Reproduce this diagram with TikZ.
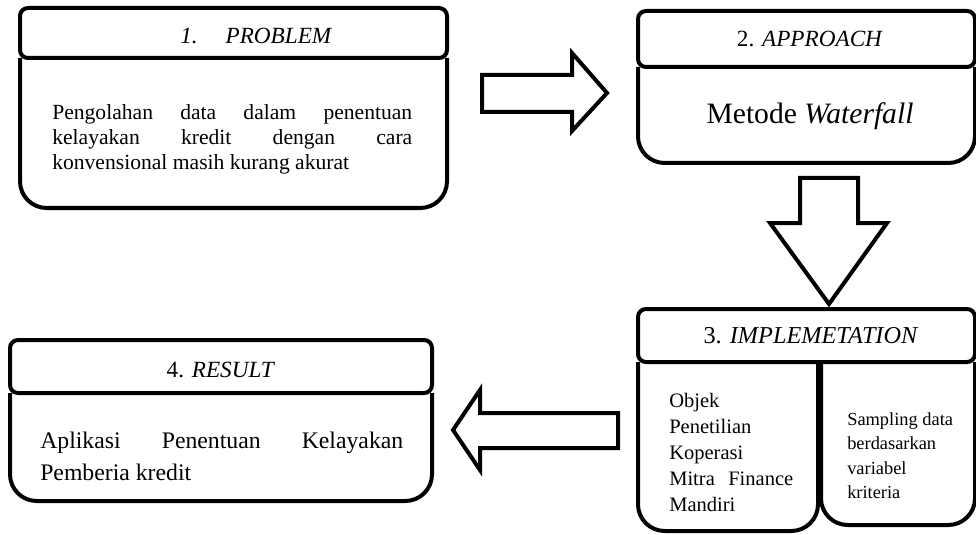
\documentclass[tikz,border=0pt]{standalone}
\usepackage{fontspec}
\setmainfont{Liberation Serif}
\usetikzlibrary{fit}
% one line of a justified paragraph, spread to a given width
\newcommand\spreadto[2]{\makebox[#1][s]{#2}}

\begin{document}
\begin{tikzpicture}[x=0.75pt,y=-0.75pt,
  frame/.style={draw=black, line width=3pt},
  headbox/.style={frame, rectangle, rounded corners=6pt, inner sep=0pt, outer sep=0pt},
  bodyline/.style={frame, rounded corners=20pt},
  blockarrow/.style={frame, line join=miter, fill=white},
  title/.style={inner sep=0pt, anchor=base, font=\fontsize{17.4pt}{20pt}\selectfont},
  bodytext/.style={inner sep=0pt, anchor=base west, align=left}]

\useasboundingbox (0,0) rectangle (976,535);

% ---- 1. Problem
\node[headbox, fit={(20,8) (447,58)}] (h1) {};
\coordinate (b1) at (447,208);
\draw[bodyline] (h1.south west) -- (h1.south west |- b1) -- (b1) -- (h1.south east);
\node[title, anchor=base west] (t1) at (180,44) {\itshape 1.\hspace{21pt}PROBLEM};
\node[bodytext, font=\fontsize{16.2pt}{18.75pt}\selectfont] (x1) at (52,120)
  {\begin{tabular}[t]{@{}l@{}}
   \spreadto{270pt}{Pengolahan data dalam penentuan}\\
   \spreadto{270pt}{kelayakan kredit dengan cara}\\
   konvensional masih kurang akurat
   \end{tabular}};

% ---- 2. Approach
\node[headbox, fit={(638,11) (975,67)}] (h2) {};
\coordinate (b2) at (975,163);
\draw[bodyline] (h2.south west) -- (h2.south west |- b2) -- (b2) -- (h2.south east);
\node[title] (t2) at (810,47) {2. \textit{APPROACH}};
\node[inner sep=0pt, anchor=base, font=\fontsize{22.2pt}{25pt}\selectfont] (x2) at (810,123)
  {Metode \textit{Waterfall}};

% ---- 3. Implementation
\node[headbox, fit={(638,309) (975,362)}] (h3) {};
\coordinate (b3l) at (818,531);
\coordinate (b3r) at (821,525);
\draw[bodyline] (h3.south west) -- (h3.south west |- b3l) -- (b3l) -- (b3l |- h3.south);
\draw[bodyline] (b3r |- h3.south) -- (b3r) -- (h3.south east |- b3r) -- (h3.south east);
\node[title, font=\fontsize{18.2pt}{21pt}\selectfont] (t3) at (811,343) {3. \textit{IMPLEMETATION}};
\node[bodytext, font=\fontsize{15.4pt}{19.5pt}\selectfont] (x3a) at (669,407)
  {\begin{tabular}[t]{@{}l@{}}
   Objek\\ Penetilian\\ Koperasi\\ \spreadto{93pt}{Mitra Finance}\\ Mandiri
   \end{tabular}};
\node[bodytext, font=\fontsize{13.8pt}{18.4pt}\selectfont] (x3b) at (847,425)
  {\begin{tabular}[t]{@{}l@{}}
   Sampling data\\ berdasarkan\\ variabel\\ kriteria
   \end{tabular}};

% ---- 4. Result
\node[headbox, fit={(10,340) (432,393)}] (h4) {};
\coordinate (b4) at (432,501);
\draw[bodyline] (h4.south west) -- (h4.south west |- b4) -- (b4) -- (h4.south east);
\node[title] (t4) at (221,377) {4. \textit{RESULT}};
\node[bodytext, font=\fontsize{17.8pt}{24pt}\selectfont] (x4) at (40,448)
  {\begin{tabular}[t]{@{}l@{}}
   \spreadto{272.25pt}{Aplikasi Penentuan Kelayakan}\\
   Pemberia kredit
   \end{tabular}};

% ---- block arrows between the stages
\draw[blockarrow] (482,75) -- (572,75) -- (572,53) -- (607,93) -- (572,131)
  -- (572,112) -- (482,112) -- cycle;
\draw[blockarrow] (800,178) -- (858,178) -- (858,223) -- (887,223) -- (829,304)
  -- (770,223) -- (800,223) -- cycle;
\draw[blockarrow] (618,413) -- (480,413) -- (480,390) -- (453,430) -- (480,470)
  -- (480,448) -- (618,448) -- cycle;
\end{tikzpicture}
\end{document}
